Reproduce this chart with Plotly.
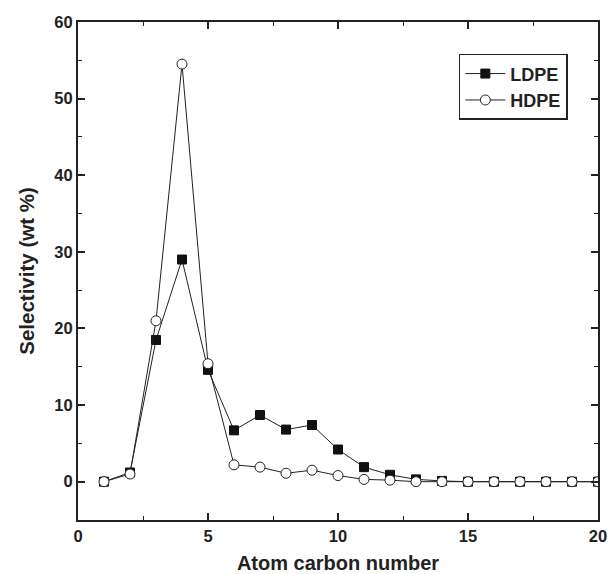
import plotly.graph_objects as go

carbon = list(range(1, 21))
ldpe = [0.0, 1.2, 18.5, 29.0, 14.6, 6.7, 8.7, 6.8, 7.4, 4.2, 1.9, 0.9, 0.3, 0.1,
        0.0, 0.0, 0.0, 0.0, 0.0, 0.0]
hdpe = [0.0, 1.0, 21.0, 54.5, 15.4, 2.2, 1.9, 1.1, 1.5, 0.8, 0.3, 0.2, 0.0, 0.0,
        0.0, 0.0, 0.0, 0.0, 0.0, 0.0]

FONT = "Liberation Sans, Arial, sans-serif"

fig = go.Figure()
fig.add_trace(go.Scatter(
    x=carbon, y=ldpe, name="LDPE", mode="lines+markers",
    line=dict(color="#222222", width=1),
    marker=dict(symbol="square", size=9, color="#111111", line=dict(color="#111111", width=1)),
))
fig.add_trace(go.Scatter(
    x=carbon, y=hdpe, name="HDPE", mode="lines+markers",
    line=dict(color="#222222", width=1),
    marker=dict(symbol="circle", size=10, color="white", line=dict(color="#222222", width=1)),
))

axis_common = dict(
    showgrid=False, zeroline=False, showline=True, linecolor="#222222", linewidth=2,
    mirror="allticks", ticks="inside", ticklen=7, tickwidth=1.5, tickcolor="#222222",
    tickfont=dict(family=FONT, size=16.5, color="#222222", weight="bold"),
    automargin=False,
)

fig.update_xaxes(
    range=[0, 20], tickvals=[0, 5, 10, 15, 20],
    minor=dict(tickvals=[2.5, 7.5, 12.5, 17.5], ticks="inside", ticklen=4, tickwidth=1, tickcolor="#222222"),
    title=dict(text="Atom carbon number", font=dict(family=FONT, size=20, color="#222222", weight="bold"), standoff=14),
    **axis_common,
)
fig.update_yaxes(
    range=[-5, 60], tickvals=[0, 10, 20, 30, 40, 50, 60],
    minor=dict(tickvals=[-5, 5, 15, 25, 35, 45, 55], ticks="inside", ticklen=4, tickwidth=1, tickcolor="#222222"),
    title=dict(text="Selectivity (wt %)", font=dict(family=FONT, size=20.5, color="#222222", weight="bold"), standoff=14),
    **axis_common,
)

fig.update_layout(
    width=611, height=574,
    margin=dict(l=78, r=13, t=22, b=54),
    paper_bgcolor="white", plot_bgcolor="white",
    showlegend=True,
    legend=dict(
        x=0.942, y=0.936, xanchor="right", yanchor="top",
        bgcolor="white", bordercolor="#222222", borderwidth=1.5,
        font=dict(family=FONT, size=18, color="#222222", weight="bold"),
        itemwidth=40, tracegroupgap=0,
    ),
)

fig.write_html("out.html")
